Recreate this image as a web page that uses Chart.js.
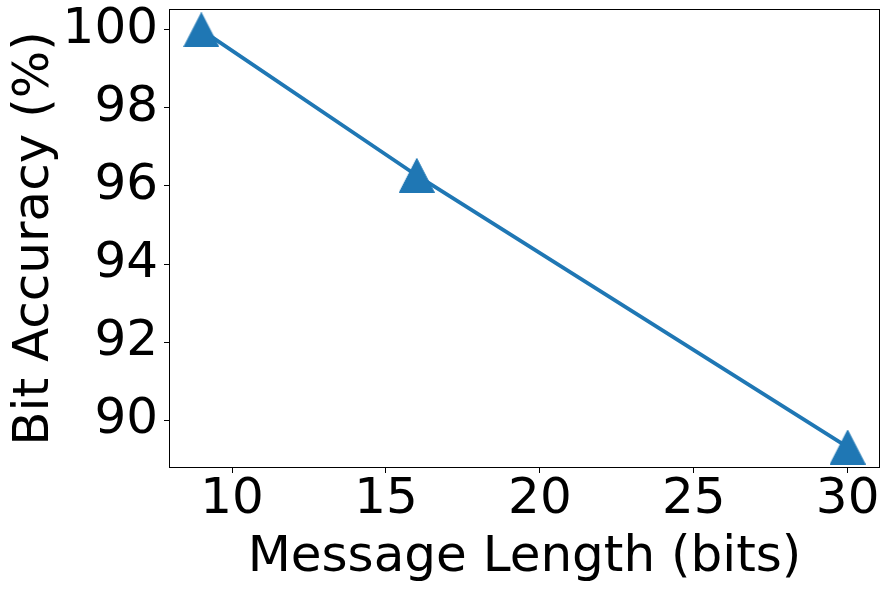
<!DOCTYPE html>
<html>
<head>
<meta charset="utf-8">
<script src="https://cdn.jsdelivr.net/npm/chart.js@4"></script>
<style>
  html, body { margin: 0; padding: 0; background: #fff; }
  #wrap { width: 889px; height: 589px; }
</style>
</head>
<body>
<div id="wrap"><canvas id="c" width="889" height="589"></canvas></div>
<script>
const messageLengths = [9, 16, 30];
const bitAccuracy = [100.0, 96.27, 89.31];
const xTicks = [10, 15, 20, 25, 30];
const yTicks = [90, 92, 94, 96, 98, 100];
const xTitle = 'Message Length (bits)';
const yTitle = 'Bit Accuracy (%)';

const COLOR = '#1f77b4';
const FONT = "'DejaVu Sans', sans-serif";

// matplotlib-style '^' marker (centred at mid-height)
function makeTriangle(w, h) {
  const cv = document.createElement('canvas');
  cv.width = w; cv.height = h;
  const g = cv.getContext('2d');
  g.fillStyle = COLOR;
  g.strokeStyle = COLOR;
  g.lineWidth = 1;
  g.beginPath();
  g.moveTo(w / 2, 0.5);
  g.lineTo(w - 0.5, h - 0.5);
  g.lineTo(0.5, h - 0.5);
  g.closePath();
  g.fill();
  g.stroke();
  return cv;
}
const tri = makeTriangle(36, 35);

// pad ranges like matplotlib (5% margins)
function padRange(vals) {
  const mn = Math.min(...vals), mx = Math.max(...vals);
  const m = (mx - mn) * 0.05;
  return [mn - m, mx + m];
}
const [xMin, xMax] = padRange(messageLengths);
const [yMin, yMax] = padRange(bitAccuracy);

const frame = {
  id: 'frame',
  afterDraw(chart) {
    const { ctx, chartArea: a } = chart;
    ctx.save();
    ctx.strokeStyle = '#000';
    ctx.lineWidth = 1;
    ctx.strokeRect(Math.round(a.left) + 0.5, Math.round(a.top) + 0.5,
                   Math.round(a.right - a.left) - 1, Math.round(a.bottom - a.top) - 1);
    ctx.restore();
  }
};

new Chart(document.getElementById('c'), {
  type: 'line',
  data: {
    datasets: [{
      data: messageLengths.map((x, i) => ({ x, y: bitAccuracy[i] })),
      borderColor: COLOR,
      backgroundColor: COLOR,
      borderWidth: 3.8,
      pointStyle: tri,
      pointRadius: 18,
      pointHoverRadius: 18,
      tension: 0,
      clip: false
    }]
  },
  options: {
    responsive: false,
    animation: false,
    events: [],
    layout: { autoPadding: false, padding: { top: 9, right: 9, left: 0, bottom: 0 } },
    plugins: { legend: { display: false }, tooltip: { enabled: false } },
    scales: {
      x: {
        type: 'linear',
        min: xMin, max: xMax,
        afterBuildTicks: s => { s.ticks = xTicks.map(v => ({ value: v })); },
        afterFit: s => { s.height = 121; s.paddingLeft = 0; s.paddingRight = 0; },
        border: { display: false },
        grid: { drawOnChartArea: false, drawTicks: true, tickLength: 5, color: '#000', lineWidth: 1 },
        ticks: { color: '#000', font: { family: FONT, size: 50 }, padding: -3, maxRotation: 0, autoSkip: false },
        title: { display: true, text: xTitle, color: '#000', font: { family: FONT, size: 50 }, padding: { top: 0, bottom: 1 } }
      },
      y: {
        type: 'linear',
        min: yMin, max: yMax,
        afterBuildTicks: s => { s.ticks = yTicks.map(v => ({ value: v })); },
        afterFit: s => { s.width = 169; s.paddingTop = 0; s.paddingBottom = 0; },
        border: { display: false },
        grid: { drawOnChartArea: false, drawTicks: true, tickLength: 5, color: '#000', lineWidth: 1 },
        ticks: { color: '#000', font: { family: FONT, size: 50 }, padding: 6, autoSkip: false },
        title: { display: true, text: yTitle, color: '#000', font: { family: FONT, size: 50 }, padding: { top: 5, bottom: 0 } }
      }
    }
  },
  plugins: [frame]
});
</script>
</body>
</html>
